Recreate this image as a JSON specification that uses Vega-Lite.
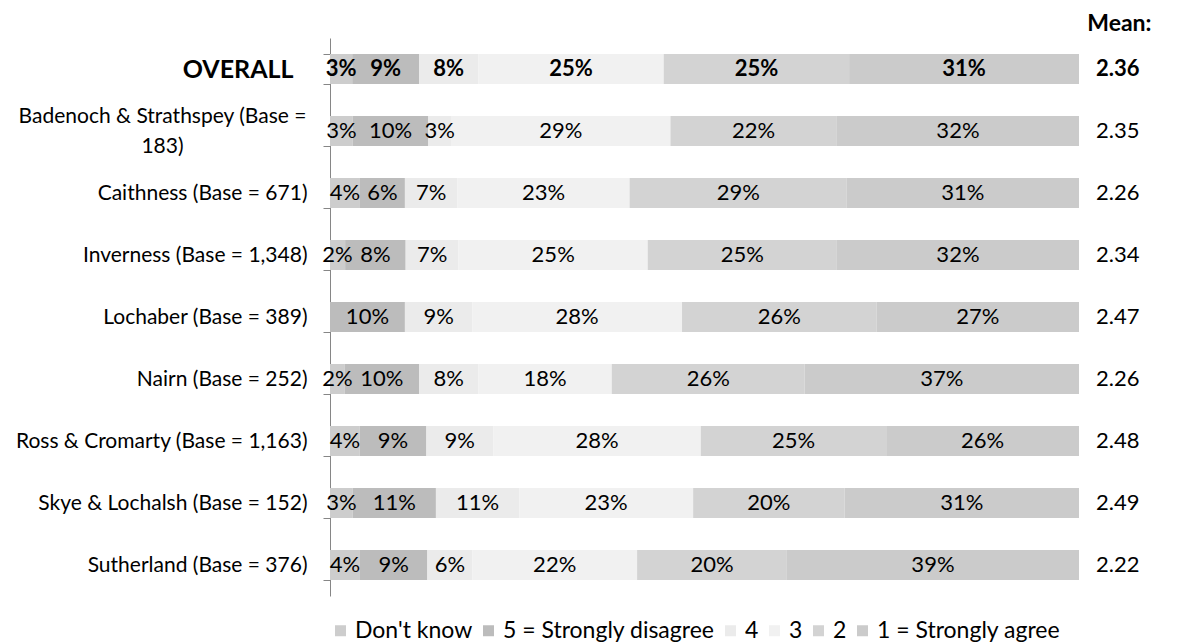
{
  "$schema": "https://vega.github.io/schema/vega-lite/v6.json",
  "autosize": {"type": "none"},
  "padding": {"left": 330, "top": 38, "right": 115, "bottom": 47},
  "width": 749,
  "height": 558,
  "background": "white",
  "config": {
    "font": "Lato",
    "view": {"stroke": null},
    "text": {"font": "Lato", "color": "#000000"}
  },
  "title": {
    "text": "Mean:",
    "anchor": "end",
    "orient": "top",
    "dx": 12,
    "dy": 13,
    "offset": 4,
    "fontSize": 23,
    "fontWeight": "bold",
    "font": "Lato",
    "color": "#000000"
  },
  "datasets": {
    "pcts": [
      {"region": "OVERALL", "cat": "Don't know", "pct": 0.03},
      {"region": "OVERALL", "cat": "5 = Strongly disagree", "pct": 0.09},
      {"region": "OVERALL", "cat": "4", "pct": 0.08},
      {"region": "OVERALL", "cat": "3", "pct": 0.25},
      {"region": "OVERALL", "cat": "2", "pct": 0.25},
      {"region": "OVERALL", "cat": "1 = Strongly agree", "pct": 0.31},
      {"region": "Badenoch & Strathspey (Base = 183)", "cat": "Don't know", "pct": 0.03},
      {"region": "Badenoch & Strathspey (Base = 183)", "cat": "5 = Strongly disagree", "pct": 0.10},
      {"region": "Badenoch & Strathspey (Base = 183)", "cat": "4", "pct": 0.03},
      {"region": "Badenoch & Strathspey (Base = 183)", "cat": "3", "pct": 0.29},
      {"region": "Badenoch & Strathspey (Base = 183)", "cat": "2", "pct": 0.22},
      {"region": "Badenoch & Strathspey (Base = 183)", "cat": "1 = Strongly agree", "pct": 0.32},
      {"region": "Caithness (Base = 671)", "cat": "Don't know", "pct": 0.04},
      {"region": "Caithness (Base = 671)", "cat": "5 = Strongly disagree", "pct": 0.06},
      {"region": "Caithness (Base = 671)", "cat": "4", "pct": 0.07},
      {"region": "Caithness (Base = 671)", "cat": "3", "pct": 0.23},
      {"region": "Caithness (Base = 671)", "cat": "2", "pct": 0.29},
      {"region": "Caithness (Base = 671)", "cat": "1 = Strongly agree", "pct": 0.31},
      {"region": "Inverness (Base = 1,348)", "cat": "Don't know", "pct": 0.02},
      {"region": "Inverness (Base = 1,348)", "cat": "5 = Strongly disagree", "pct": 0.08},
      {"region": "Inverness (Base = 1,348)", "cat": "4", "pct": 0.07},
      {"region": "Inverness (Base = 1,348)", "cat": "3", "pct": 0.25},
      {"region": "Inverness (Base = 1,348)", "cat": "2", "pct": 0.25},
      {"region": "Inverness (Base = 1,348)", "cat": "1 = Strongly agree", "pct": 0.32},
      {"region": "Lochaber (Base = 389)", "cat": "5 = Strongly disagree", "pct": 0.10},
      {"region": "Lochaber (Base = 389)", "cat": "4", "pct": 0.09},
      {"region": "Lochaber (Base = 389)", "cat": "3", "pct": 0.28},
      {"region": "Lochaber (Base = 389)", "cat": "2", "pct": 0.26},
      {"region": "Lochaber (Base = 389)", "cat": "1 = Strongly agree", "pct": 0.27},
      {"region": "Nairn (Base = 252)", "cat": "Don't know", "pct": 0.02},
      {"region": "Nairn (Base = 252)", "cat": "5 = Strongly disagree", "pct": 0.10},
      {"region": "Nairn (Base = 252)", "cat": "4", "pct": 0.08},
      {"region": "Nairn (Base = 252)", "cat": "3", "pct": 0.18},
      {"region": "Nairn (Base = 252)", "cat": "2", "pct": 0.26},
      {"region": "Nairn (Base = 252)", "cat": "1 = Strongly agree", "pct": 0.37},
      {"region": "Ross & Cromarty (Base = 1,163)", "cat": "Don't know", "pct": 0.04},
      {"region": "Ross & Cromarty (Base = 1,163)", "cat": "5 = Strongly disagree", "pct": 0.09},
      {"region": "Ross & Cromarty (Base = 1,163)", "cat": "4", "pct": 0.09},
      {"region": "Ross & Cromarty (Base = 1,163)", "cat": "3", "pct": 0.28},
      {"region": "Ross & Cromarty (Base = 1,163)", "cat": "2", "pct": 0.25},
      {"region": "Ross & Cromarty (Base = 1,163)", "cat": "1 = Strongly agree", "pct": 0.26},
      {"region": "Skye & Lochalsh (Base = 152)", "cat": "Don't know", "pct": 0.03},
      {"region": "Skye & Lochalsh (Base = 152)", "cat": "5 = Strongly disagree", "pct": 0.11},
      {"region": "Skye & Lochalsh (Base = 152)", "cat": "4", "pct": 0.11},
      {"region": "Skye & Lochalsh (Base = 152)", "cat": "3", "pct": 0.23},
      {"region": "Skye & Lochalsh (Base = 152)", "cat": "2", "pct": 0.20},
      {"region": "Skye & Lochalsh (Base = 152)", "cat": "1 = Strongly agree", "pct": 0.31},
      {"region": "Sutherland (Base = 376)", "cat": "Don't know", "pct": 0.04},
      {"region": "Sutherland (Base = 376)", "cat": "5 = Strongly disagree", "pct": 0.09},
      {"region": "Sutherland (Base = 376)", "cat": "4", "pct": 0.06},
      {"region": "Sutherland (Base = 376)", "cat": "3", "pct": 0.22},
      {"region": "Sutherland (Base = 376)", "cat": "2", "pct": 0.20},
      {"region": "Sutherland (Base = 376)", "cat": "1 = Strongly agree", "pct": 0.39}
    ],
    "means": [
      {"region": "OVERALL", "mean": 2.36},
      {"region": "Badenoch & Strathspey (Base = 183)", "mean": 2.35},
      {"region": "Caithness (Base = 671)", "mean": 2.26},
      {"region": "Inverness (Base = 1,348)", "mean": 2.34},
      {"region": "Lochaber (Base = 389)", "mean": 2.47},
      {"region": "Nairn (Base = 252)", "mean": 2.26},
      {"region": "Ross & Cromarty (Base = 1,163)", "mean": 2.48},
      {"region": "Skye & Lochalsh (Base = 152)", "mean": 2.49},
      {"region": "Sutherland (Base = 376)", "mean": 2.22}
    ]
  },
  "layer": [
    {
      "data": {"name": "pcts"},
      "transform": [
        {"stack": "pct", "groupby": ["region"], "sort": [{"field": "cat", "order": "descending"}], "offset": "normalize", "as": ["x0", "x1"]}
      ],
      "mark": {"type": "bar"},
      "encoding": {
        "y": {
          "field": "region", "type": "nominal",
          "sort": ["OVERALL", "Badenoch & Strathspey (Base = 183)", "Caithness (Base = 671)", "Inverness (Base = 1,348)", "Lochaber (Base = 389)", "Nairn (Base = 252)", "Ross & Cromarty (Base = 1,163)", "Skye & Lochalsh (Base = 152)", "Sutherland (Base = 376)"],
          "scale": {"paddingInner": 0.516, "paddingOuter": 0.258},
          "axis": {
            "title": null,
            "domainColor": "#868686",
            "tickColor": "#868686",
            "tickSize": 7,
            "tickBand": "extent",
            "labelFont": "Lato",
            "labelColor": "#000000",
            "labelLimit": 0,
            "labelLineHeight": 30,
            "labelExpr": "datum.value == 'Badenoch & Strathspey (Base = 183)' ? ['Badenoch & Strathspey (Base =', '183)'] : datum.value",
            "labelFontSize": {"condition": {"test": "datum.value == 'OVERALL'", "value": 25}, "value": 21},
            "labelFontWeight": {"condition": {"test": "datum.value == 'OVERALL'", "value": "bold"}, "value": "normal"},
            "labelAlign": {"condition": {"test": "datum.value == 'Badenoch & Strathspey (Base = 183)'", "value": "center"}, "value": "right"},
            "labelOffset": {"condition": {"test": "datum.value == 'Badenoch & Strathspey (Base = 183)'", "value": -15}, "value": 0},
            "labelPadding": {"condition": [{"test": "datum.value == 'OVERALL'", "value": 30}, {"test": "datum.value == 'Badenoch & Strathspey (Base = 183)'", "value": 161}], "value": 16}
          }
        },
        "x": {"field": "x0", "type": "quantitative", "scale": {"domain": [0, 1]}, "axis": null},
        "x2": {"field": "x1"},
        "color": {
          "field": "cat", "type": "nominal",
          "scale": {
            "domain": ["Don't know", "5 = Strongly disagree", "4", "3", "2", "1 = Strongly agree"],
            "range": ["#cdcdcd", "#bcbcbc", "#ebebeb", "#f1f1f1", "#d3d3d3", "#cbcbcb"]
          },
          "legend": {
            "title": null,
            "orient": "none",
            "direction": "horizontal",
            "columns": 6,
            "legendX": -1,
            "legendY": 581,
            "symbolType": "square",
            "symbolSize": 121,
            "symbolStrokeWidth": 0,
            "labelFont": "Lato",
            "labelFontSize": 23,
            "labelColor": "#000000",
            "labelOffset": 3,
            "columnPadding": 4,
            "labelLimit": 0
          }
        }
      }
    },
    {
      "data": {"name": "pcts"},
      "transform": [
        {"stack": "pct", "groupby": ["region"], "sort": [{"field": "cat", "order": "descending"}], "offset": "normalize", "as": ["x0", "x1"]},
        {"fold": ["x0", "x1"], "as": ["edge", "pos"]},
        {"aggregate": [{"op": "mean", "field": "pos", "as": "mid"}], "groupby": ["region", "cat", "pct"]},
        {"filter": "datum.region != 'OVERALL'"}
      ],
      "mark": {"type": "text", "fontSize": 22, "font": "Lato", "color": "#000000", "align": "center", "baseline": "middle"},
      "encoding": {
        "y": {"field": "region", "type": "nominal", "sort": ["OVERALL", "Badenoch & Strathspey (Base = 183)", "Caithness (Base = 671)", "Inverness (Base = 1,348)", "Lochaber (Base = 389)", "Nairn (Base = 252)", "Ross & Cromarty (Base = 1,163)", "Skye & Lochalsh (Base = 152)", "Sutherland (Base = 376)"]},
        "x": {"field": "mid", "type": "quantitative"},
        "text": {"field": "pct", "type": "quantitative", "format": ".0%"}
      }
    },
    {
      "data": {"name": "pcts"},
      "transform": [
        {"stack": "pct", "groupby": ["region"], "sort": [{"field": "cat", "order": "descending"}], "offset": "normalize", "as": ["x0", "x1"]},
        {"fold": ["x0", "x1"], "as": ["edge", "pos"]},
        {"aggregate": [{"op": "mean", "field": "pos", "as": "mid"}], "groupby": ["region", "cat", "pct"]},
        {"filter": "datum.region == 'OVERALL'"}
      ],
      "mark": {"type": "text", "fontSize": 22, "fontWeight": "bold", "font": "Lato", "color": "#000000", "align": "center", "baseline": "middle"},
      "encoding": {
        "y": {"field": "region", "type": "nominal", "sort": ["OVERALL", "Badenoch & Strathspey (Base = 183)", "Caithness (Base = 671)", "Inverness (Base = 1,348)", "Lochaber (Base = 389)", "Nairn (Base = 252)", "Ross & Cromarty (Base = 1,163)", "Skye & Lochalsh (Base = 152)", "Sutherland (Base = 376)"]},
        "x": {"field": "mid", "type": "quantitative"},
        "text": {"field": "pct", "type": "quantitative", "format": ".0%"}
      }
    },
    {
      "data": {"name": "means"},
      "transform": [{"filter": "datum.region != 'OVERALL'"}],
      "mark": {"type": "text", "fontSize": 22, "font": "Lato", "color": "#000000", "align": "left", "baseline": "middle", "dx": 17},
      "encoding": {
        "y": {"field": "region", "type": "nominal", "sort": ["OVERALL", "Badenoch & Strathspey (Base = 183)", "Caithness (Base = 671)", "Inverness (Base = 1,348)", "Lochaber (Base = 389)", "Nairn (Base = 252)", "Ross & Cromarty (Base = 1,163)", "Skye & Lochalsh (Base = 152)", "Sutherland (Base = 376)"]},
        "x": {"datum": 1, "type": "quantitative"},
        "text": {"field": "mean", "type": "quantitative", "format": ".2f"}
      }
    },
    {
      "data": {"name": "means"},
      "transform": [{"filter": "datum.region == 'OVERALL'"}],
      "mark": {"type": "text", "fontSize": 22, "fontWeight": "bold", "font": "Lato", "color": "#000000", "align": "left", "baseline": "middle", "dx": 17},
      "encoding": {
        "y": {"field": "region", "type": "nominal", "sort": ["OVERALL", "Badenoch & Strathspey (Base = 183)", "Caithness (Base = 671)", "Inverness (Base = 1,348)", "Lochaber (Base = 389)", "Nairn (Base = 252)", "Ross & Cromarty (Base = 1,163)", "Skye & Lochalsh (Base = 152)", "Sutherland (Base = 376)"]},
        "x": {"datum": 1, "type": "quantitative"},
        "text": {"field": "mean", "type": "quantitative", "format": ".2f"}
      }
    }
  ]
}
